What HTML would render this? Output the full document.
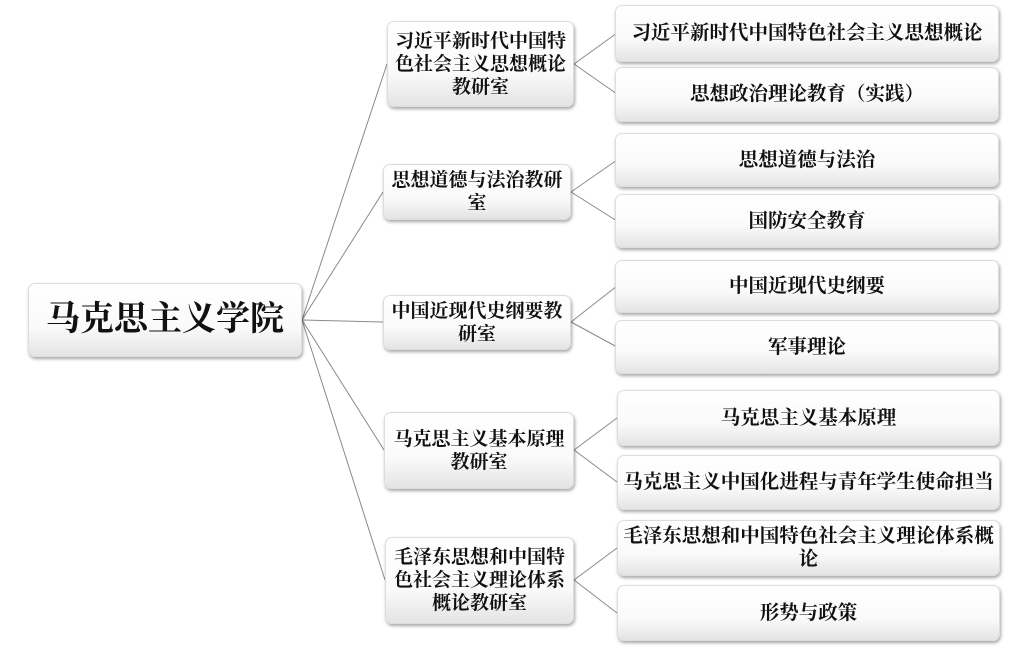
<!DOCTYPE html>
<html><head><meta charset="utf-8"><style>
body{margin:0;width:1024px;height:649px;background:#fff;position:relative;overflow:hidden;font-family:"Liberation Serif","Noto Serif CJK SC","Noto Sans CJK SC",serif;color:#111;font-weight:bold}
.b{position:absolute;box-sizing:border-box;border-radius:7px;background:linear-gradient(#fff 0%,#fafafa 60%,#e4e4e4 100%);box-shadow:1px 2px 3px rgba(0,0,0,.35);border:1px solid #ddd;display:flex;align-items:center;justify-content:center;text-align:center;font-size:19px;line-height:23px;padding:0 3px}
.l{font-size:19.5px;padding:0}
svg{position:absolute;left:0;top:0}
</style></head><body>
<svg width="1024" height="649"><g stroke="#8a8a8a" stroke-width="1" fill="none">
<line x1="302" y1="320" x2="387" y2="64"/><line x1="302" y1="320" x2="383" y2="192"/><line x1="302" y1="320" x2="383" y2="322"/><line x1="302" y1="320" x2="384" y2="450"/><line x1="302" y1="320" x2="385" y2="580"/>
<line x1="574" y1="64" x2="617" y2="33"/><line x1="574" y1="64" x2="617" y2="94"/>
<line x1="571" y1="192" x2="617" y2="160"/><line x1="571" y1="192" x2="617" y2="221"/>
<line x1="571" y1="322" x2="617" y2="286"/><line x1="571" y1="322" x2="617" y2="347"/>
<line x1="574" y1="450" x2="617" y2="418"/><line x1="574" y1="450" x2="617" y2="482"/>
<line x1="574" y1="580" x2="617" y2="548"/><line x1="574" y1="580" x2="617" y2="613"/>
</g></svg>
<div class="b" style="left:28px;top:283px;width:274px;height:74px;font-size:34px;line-height:40px">马克思主义学院</div>
<div class="b" style="left:387px;top:21px;width:187px;height:86px">习近平新时代中国特<br>色社会主义思想概论<br>教研室</div>
<div class="b" style="left:383px;top:164px;width:188px;height:56px">思想道德与法治教研<br>室</div>
<div class="b" style="left:383px;top:295px;width:188px;height:55px">中国近现代史纲要教<br>研室</div>
<div class="b" style="left:384px;top:412px;width:190px;height:77px">马克思主义基本原理<br>教研室</div>
<div class="b" style="left:385px;top:537px;width:189px;height:87px">毛泽东思想和中国特<br>色社会主义理论体系<br>概论教研室</div>
<div class="b l" style="left:615px;top:5px;width:384px;height:57px">习近平新时代中国特色社会主义思想概论</div>
<div class="b l" style="left:615px;top:67px;width:384px;height:55px">思想政治理论教育（实践）</div>
<div class="b l" style="left:615px;top:133px;width:384px;height:54px">思想道德与法治</div>
<div class="b l" style="left:615px;top:194px;width:384px;height:54px">国防安全教育</div>
<div class="b l" style="left:615px;top:260px;width:384px;height:53px">中国近现代史纲要</div>
<div class="b l" style="left:615px;top:320px;width:384px;height:54px">军事理论</div>
<div class="b l" style="left:617px;top:390px;width:383px;height:56px">马克思主义基本原理</div>
<div class="b l" style="left:617px;top:455px;width:383px;height:55px;white-space:nowrap">马克思主义中国化进程与青年学生使命担当</div>
<div class="b l" style="left:617px;top:520px;width:383px;height:56px">毛泽东思想和中国特色社会主义理论体系概<br>论</div>
<div class="b l" style="left:617px;top:585px;width:383px;height:56px">形势与政策</div>
</body></html>
